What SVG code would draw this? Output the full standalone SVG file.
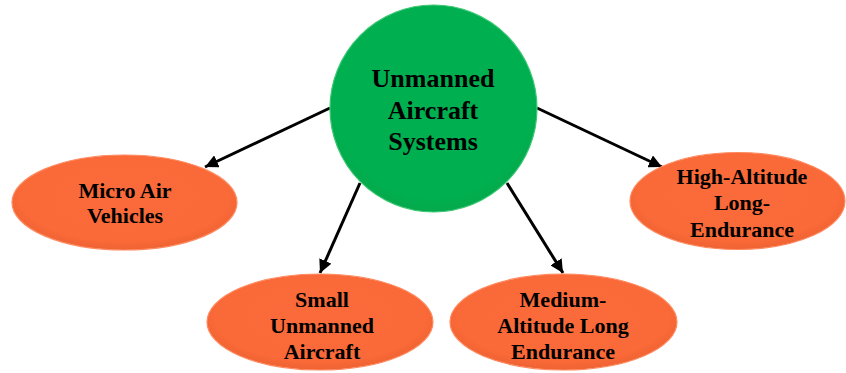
<svg xmlns="http://www.w3.org/2000/svg" width="846" height="373" viewBox="0 0 846 373">
  <defs>
    <marker id="arrow" viewBox="0 0 10 10" refX="10" refY="5" markerWidth="4.4" markerHeight="4.4" orient="auto" markerUnits="strokeWidth">
      <path d="M0,0 L10,5 L0,10 z" fill="#000"/>
    </marker>
    <radialGradient id="orangeFill" cx="50%" cy="45%" r="55%">
      <stop offset="0%" stop-color="#FB6A3A"/>
      <stop offset="85%" stop-color="#FA6938"/>
      <stop offset="100%" stop-color="#EE6232"/>
    </radialGradient>
    <radialGradient id="greenFill" cx="50%" cy="45%" r="55%">
      <stop offset="0%" stop-color="#00B050"/>
      <stop offset="88%" stop-color="#00AF4F"/>
      <stop offset="100%" stop-color="#05A94C"/>
    </radialGradient>
  </defs>
  <style>
    .hub { fill: url(#greenFill); stroke: #3CC873; stroke-width: 1.2; }
    .leaf { fill: url(#orangeFill); stroke: #FF8A60; stroke-width: 1.2; }
    .hub-label { font-family: "Liberation Serif", "Times New Roman", serif; font-weight: bold; font-size: 26px; fill: #000; text-anchor: middle; }
    .leaf-label { font-family: "Liberation Serif", "Times New Roman", serif; font-weight: bold; font-size: 22px; fill: #000; text-anchor: middle; }
    .link { stroke: #000; stroke-width: 3; fill: none; marker-end: url(#arrow); }
  </style>
  <rect width="846" height="373" fill="#fff"/>

  <g id="connectors">
    <line class="link" x1="330" y1="108" x2="205" y2="167"/>
    <line class="link" x1="537" y1="108" x2="662" y2="167"/>
    <line class="link" x1="360" y1="183" x2="320" y2="273"/>
    <line class="link" x1="507" y1="183" x2="563" y2="273"/>
  </g>

  <g id="uas">
    <circle class="hub" cx="433.5" cy="108.5" r="103.5"/>
    <text class="hub-label" x="433" y="87">Unmanned</text>
    <text class="hub-label" x="433" y="118.5">Aircraft</text>
    <text class="hub-label" x="433" y="150">Systems</text>
  </g>

  <g id="micro-air-vehicles">
    <ellipse class="leaf" cx="124.5" cy="202.5" rx="112.5" ry="47.5"/>
    <text class="leaf-label" x="125" y="198">Micro Air</text>
    <text class="leaf-label" x="125" y="223">Vehicles</text>
  </g>

  <g id="small-unmanned-aircraft">
    <ellipse class="leaf" cx="320" cy="322" rx="113" ry="48"/>
    <text class="leaf-label" x="322" y="307">Small</text>
    <text class="leaf-label" x="322" y="333">Unmanned</text>
    <text class="leaf-label" x="322" y="359">Aircraft</text>
  </g>

  <g id="medium-altitude-long-endurance">
    <ellipse class="leaf" cx="563.5" cy="322" rx="113.5" ry="48"/>
    <text class="leaf-label" x="563" y="307">Medium-</text>
    <text class="leaf-label" x="563" y="333">Altitude Long</text>
    <text class="leaf-label" x="563" y="359">Endurance</text>
  </g>

  <g id="high-altitude-long-endurance">
    <ellipse class="leaf" cx="737.5" cy="201" rx="107.5" ry="48.5"/>
    <text class="leaf-label" x="742" y="184">High-Altitude</text>
    <text class="leaf-label" x="742" y="210">Long-</text>
    <text class="leaf-label" x="742" y="237">Endurance</text>
  </g>
</svg>
